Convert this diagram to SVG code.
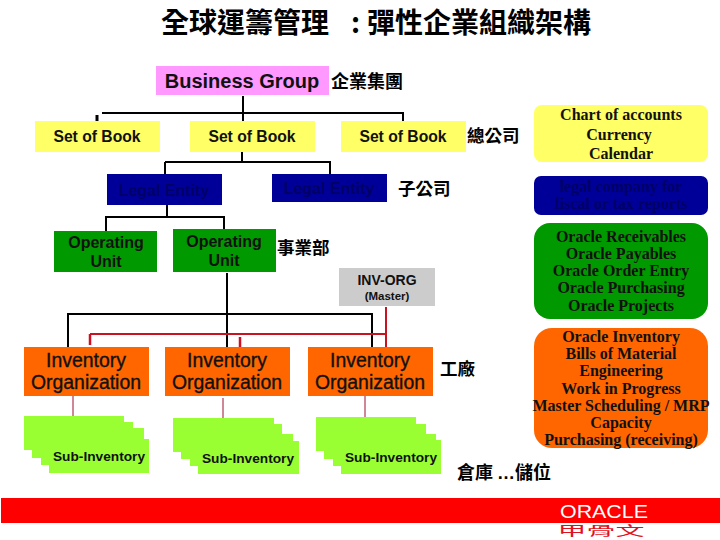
<svg xmlns="http://www.w3.org/2000/svg" width="720" height="540" viewBox="0 0 720 540">
<style>
.s{font-family:"Liberation Sans",Arial,sans-serif;font-weight:bold;fill:#111;text-anchor:middle}
.i{font-family:"Liberation Sans",Arial,sans-serif;font-size:19.4px;fill:#111;stroke:#111;stroke-width:.35;text-anchor:middle}
.r{font-family:"Liberation Serif","Times New Roman",serif;font-weight:bold;font-size:16px;fill:#111;text-anchor:middle}
.z{font-family:"Noto Sans CJK TC",sans-serif;font-weight:bold;fill:#000}
.k{fill:none;stroke:#000;stroke-width:2}
.e{fill:none;stroke:#c81420;stroke-width:2}
.t{fill:none;stroke:#a01030;stroke-width:1}
.y{fill:#ffff66}.b{fill:#000099}.g{fill:#009900}.o{fill:#ff6600}.l{fill:#99ff33}
</style>
<rect width="720" height="540" fill="#fff"/>
<g id="title"><text class="z" x="161" y="33" font-size="28">全球運籌管理</text><text class="z" x="351" y="33" font-size="28">:</text><text class="z" x="367" y="33" font-size="28">彈性企業組織架構</text></g>
<g id="connectors">
<path class="k" d="M243 96V121M102 113H403V121M242 152V162M165 162H330V174M165 162V174M167 205V217M106 231V217H224V229M227 273V347M68 347V314H372V347"/>
<path d="M97 115V121" fill="none" stroke="#000" stroke-width="3"/>
<path class="e" d="M386 307V347M90 334H386"/>
<path d="M90 334V345M240 337V347" fill="none" stroke="#d01020" stroke-width="2.5"/>
<path class="t" d="M73 396V416M223 398V418M365 396V417"/>
</g>
<g id="business-group"><rect x="156" y="66" width="173" height="29" fill="#ff99ff"/><text class="s" x="242" y="88" font-size="20">Business Group</text></g>
<text class="z" x="331" y="88" font-size="18">企業集團</text>
<g id="sob1"><rect class="y" x="35" y="121" width="125" height="31"/><text class="s" x="97" y="142" font-size="15.7">Set of Book</text></g>
<g id="sob2"><rect class="y" x="190" y="121" width="125" height="31"/><text class="s" x="252" y="142" font-size="15.7">Set of Book</text></g>
<g id="sob3"><rect class="y" x="341" y="121" width="125" height="31"/><text class="s" x="403" y="142" font-size="15.7">Set of Book</text></g>
<text class="z" x="467" y="142" font-size="17.5">總公司</text>
<g id="le1"><rect class="b" x="107" y="174" width="115" height="31"/><text class="s" x="164" y="196" font-size="16" style="fill:#000066">Legal Entity</text></g>
<g id="le2"><rect class="b" x="272" y="174" width="115" height="28"/><text class="s" x="329" y="194" font-size="16" style="fill:#000066">Legal Entity</text></g>
<text class="z" x="398" y="195" font-size="17.5">子公司</text>
<g id="ou1"><rect class="g" x="54" y="231" width="103" height="41"/><text class="s" x="106" y="248" font-size="16">Operating</text><text class="s" x="106" y="267" font-size="16">Unit</text></g>
<g id="ou2"><rect class="g" x="173" y="229" width="103" height="43"/><text class="s" x="224" y="247" font-size="16">Operating</text><text class="s" x="224" y="266" font-size="16">Unit</text></g>
<text class="z" x="277" y="254" font-size="17.5">事業部</text>
<g id="inv-org"><rect x="339" y="268" width="96" height="38" fill="#cccccc"/><text class="s" x="387" y="285" font-size="14">INV-ORG</text><text class="s" x="387" y="300" font-size="11.5">(Master)</text></g>
<g id="io1"><rect class="o" x="24" y="347" width="125" height="49"/><text class="i" x="86" y="367">Inventory</text><text class="i" x="86" y="389">Organization</text></g>
<g id="io2"><rect class="o" x="165" y="347" width="125" height="49"/><text class="i" x="227" y="367">Inventory</text><text class="i" x="227" y="389">Organization</text></g>
<g id="io3"><rect class="o" x="308" y="347" width="125" height="49"/><text class="i" x="370" y="367">Inventory</text><text class="i" x="370" y="389">Organization</text></g>
<text class="z" x="440" y="375" font-size="17.5">工廠</text>
<g id="si1"><path class="l" d="M24 416H124V422H133V428H144V439H149V473H49V465H41V458H32V450H24Z"/><text class="s" x="99" y="461" font-size="13.7">Sub-Inventory</text></g>
<g id="si2"><path class="l" d="M173 418H274V424H282V434H293V441H299V474H198V466H190V459H181V452H173Z"/><text class="s" x="248" y="463" font-size="13.7">Sub-Inventory</text></g>
<g id="si3"><path class="l" d="M316 417H416V424H426V434H436V440H441V474H341V466H333V459H324V451H316Z"/><text class="s" x="391" y="462" font-size="13.7">Sub-Inventory</text></g>
<text class="z" x="457" y="479" font-size="18">倉庫 <tspan font-family="'Liberation Sans',sans-serif">…</tspan>儲位</text>
<g id="note1"><rect class="y" x="534" y="105" width="174" height="57" rx="8"/><text class="r" x="621" y="120">Chart of accounts</text><text class="r" x="619" y="140">Currency</text><text class="r" x="621" y="159">Calendar</text></g>
<g id="note2"><rect class="b" x="534" y="176" width="174" height="39" rx="7"/><text class="r" x="621" y="192" style="fill:#000066">legal company for</text><text class="r" x="621" y="209" style="fill:#000066">fiscal or tax reports</text></g>
<g id="note3"><rect class="g" x="534" y="223" width="174" height="96" rx="16"/><text class="r" x="621" y="242">Oracle Receivables</text><text class="r" x="621" y="259">Oracle Payables</text><text class="r" x="621" y="276">Oracle Order Entry</text><text class="r" x="621" y="293">Oracle Purchasing</text><text class="r" x="621" y="311">Oracle Projects</text></g>
<g id="note4"><rect class="o" x="534" y="328" width="174" height="120" rx="18"/><text class="r" x="621" y="342">Oracle Inventory</text><text class="r" x="621" y="359">Bills of Material</text><text class="r" x="621" y="376">Engineering</text><text class="r" x="621" y="394">Work in Progress</text><text class="r" x="621" y="411">Master Scheduling / MRP</text><text class="r" x="621" y="428">Capacity</text><text class="r" x="621" y="445">Purchasing (receiving)</text></g>
<rect x="1" y="498" width="719" height="25" fill="#ff0000"/>
<g id="logo"><text x="604" y="518" font-family="'Liberation Sans',sans-serif" font-size="18" fill="#fff" text-anchor="middle" textLength="88" lengthAdjust="spacingAndGlyphs">ORACLE</text><text x="601" y="535" font-family="'Noto Sans CJK TC',sans-serif" font-size="13" fill="#e01020" text-anchor="middle" textLength="87" lengthAdjust="spacingAndGlyphs">甲骨文</text></g>
</svg>
